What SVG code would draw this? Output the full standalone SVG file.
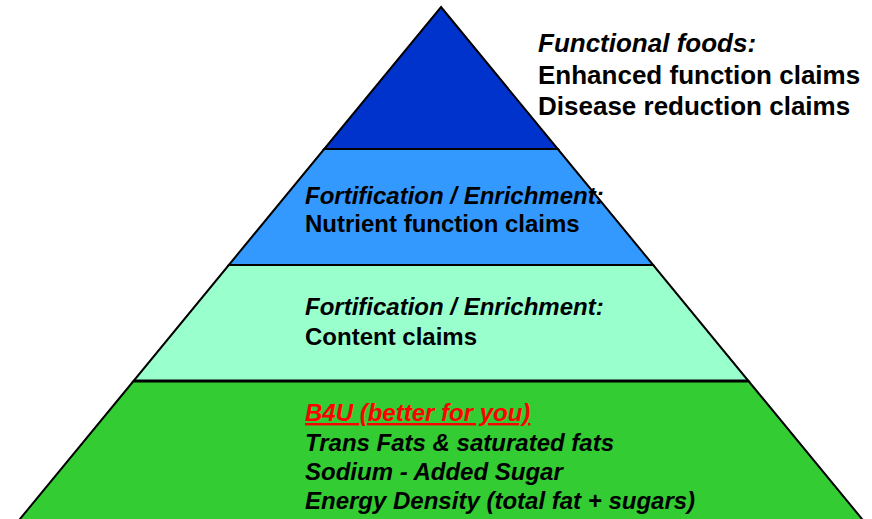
<svg xmlns="http://www.w3.org/2000/svg" width="872" height="519" viewBox="0 0 872 519">
<style>
.layer{stroke:#000;stroke-width:2;stroke-linejoin:miter}
text{font-family:"Liberation Sans",Arial,sans-serif;font-weight:bold;fill:#000}
.it{font-style:italic}
.t24{font-size:24px}
.t26{font-size:26px}
</style>
<rect x="0" y="0" width="872" height="519" fill="#fff"/>
<g id="layer-b4u">
<polygon class="layer" fill="#33CC33" points="133.5,381 748.5,381 879.3,540 2.7,540"/>
<text class="t24 it" x="305" y="421" fill="#FF0000" style="fill:#FF0000;text-decoration:underline">B4U (better for you)</text>
<text class="t24 it" x="305" y="451">Trans Fats &amp; saturated fats</text>
<text class="t24 it" x="305" y="480">Sodium - Added Sugar</text>
<text class="t24 it" x="305" y="509">Energy Density (total fat + sugars)</text>
</g>
<g id="layer-content">
<polygon class="layer" fill="#99FFCC" points="228.8,265 653.2,265 748.5,381 133.5,381"/>
<text class="t24 it" x="305" y="315">Fortification / Enrichment:</text>
<text class="t24" x="305" y="345">Content claims</text>
</g>
<g id="layer-nutrient">
<polygon class="layer" fill="#3399FF" points="324.2,149 557.8,149 653.2,265 228.8,265"/>
<text class="t24 it" x="305" y="204">Fortification / Enrichment:</text>
<text class="t24" x="305" y="232">Nutrient function claims</text>
</g>
<g id="layer-functional">
<polygon class="layer" fill="#0033CC" points="441,7 557.8,149 324.2,149"/>
</g>
<line x1="133.5" y1="381" x2="748.5" y2="381" stroke="#000" stroke-width="3"/>
<g id="functional-label">
<text class="t26 it" x="538" y="52">Functional foods:</text>
<text class="t26" x="538" y="84">Enhanced function claims</text>
<text class="t26" x="538" y="115">Disease reduction claims</text>
</g>
</svg>
